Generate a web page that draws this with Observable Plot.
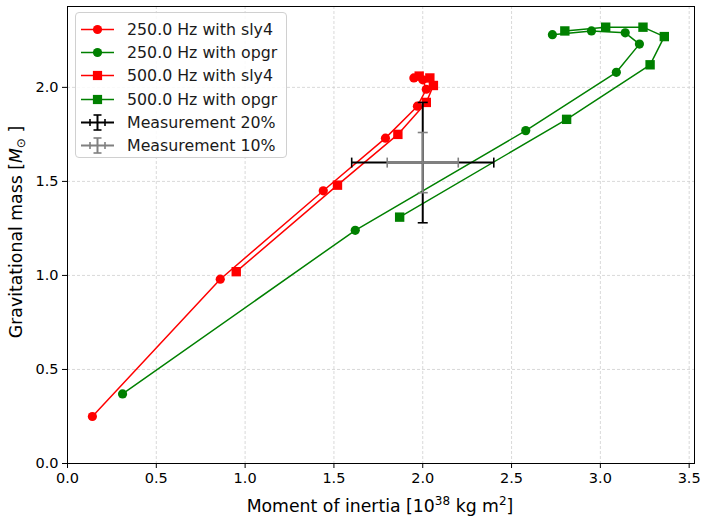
<!DOCTYPE html>
<html>
<head>
<meta charset="utf-8">
<script src="https://cdn.jsdelivr.net/npm/d3@7"></script>
<script src="https://cdn.jsdelivr.net/npm/@observablehq/plot@0.6"></script>
<style>
  html, body { margin: 0; padding: 0; background: white; }
  #wrap { position: relative; width: 701px; height: 516px; font-family: "DejaVu Sans", sans-serif; }
  #legend { position: absolute; left: 75px; top: 12px; width: 212px; height: 146px; border: 1px solid #d0d0d0;
            border-radius: 4px; background: rgba(255,255,255,0.85); box-sizing: border-box; }
  #legend .row { position: absolute; left: 0; height: 23px; width: 100%; }
  #legend svg { position: absolute; left: 4px; top: 0; }
  #legend span { position: absolute; left: 51px; top: 2px; font-size: 15.8px; color: #1a1a1a; white-space: nowrap; font-family: "DejaVu Sans", sans-serif; }
</style>
</head>
<body>
<div id="wrap"></div>
<script>
// ---- data ----
const x_250_sly4 = [0.14, 0.86, 1.44, 1.79, 1.97, 2.02, 2.00, 1.95];
const y_250_sly4 = [0.25, 0.98, 1.45, 1.73, 1.90, 1.99, 2.04, 2.05];
const x_500_sly4 = [0.95, 1.52, 1.86, 2.02, 2.06, 2.04, 1.98];
const y_500_sly4 = [1.02, 1.48, 1.75, 1.92, 2.01, 2.05, 2.06];
const x_250_opgr = [0.31, 1.62, 2.58, 3.09, 3.22, 3.14, 2.95, 2.73];
const y_250_opgr = [0.37, 1.24, 1.77, 2.08, 2.23, 2.29, 2.30, 2.28];
const x_500_opgr = [1.87, 2.81, 3.28, 3.36, 3.24, 3.03, 2.80];
const y_500_opgr = [1.31, 1.83, 2.12, 2.27, 2.32, 2.32, 2.30];

const measX = 2.0;
const measY = 1.6;
const measLevels = [0.20, 0.10];           // relative errors
const measColors = ["#000000", "#808080"];
const measLabels = ["Measurement 20%", "Measurement 10%"];

const seriesNames = ["250.0 Hz with sly4", "250.0 Hz with opgr", "500.0 Hz with sly4", "500.0 Hz with opgr"];
const seriesColors = ["#ff0000", "#008000", "#ff0000", "#008000"];
const seriesSymbols = ["circle", "circle", "square", "square"];

const xTicks = [0, 0.5, 1, 1.5, 2, 2.5, 3, 3.5];
const yTicks = [0, 0.5, 1, 1.5, 2];

// ---- build tables ----
const toRows = (xs, ys) => xs.map((x, i) => ({x, y: ys[i]}));
const series = [
  toRows(x_250_sly4, y_250_sly4),
  toRows(x_250_opgr, y_250_opgr),
  toRows(x_500_sly4, y_500_sly4),
  toRows(x_500_opgr, y_500_opgr)
];

const meas = measLevels.map((e, i) => ({
  x: measX, y: measY, ex: e * measX, ey: e * measY, color: measColors[i]
}));

// cap symbols
const capH = { draw(ctx, size) { const r = Math.sqrt(size / Math.PI); ctx.moveTo(-r, 0); ctx.lineTo(r, 0); } };
const capV = { draw(ctx, size) { const r = Math.sqrt(size / Math.PI); ctx.moveTo(0, -r); ctx.lineTo(0, r); } };

const marks = [
  Plot.gridX(xTicks.slice(1), {stroke: "#cfcfcf", strokeOpacity: 1, strokeWidth: 0.8, strokeDasharray: "3,2"}),
  Plot.gridY(yTicks.slice(1), {stroke: "#cfcfcf", strokeOpacity: 1, strokeWidth: 0.8, strokeDasharray: "3,2"}),
];

series.forEach((rows, i) => {
  marks.push(Plot.line(rows, {x: "x", y: "y", stroke: seriesColors[i], strokeWidth: 1.5}));
});
series.forEach((rows, i) => {
  marks.push(Plot.dot(rows, {x: "x", y: "y", fill: seriesColors[i], stroke: "none",
    symbol: seriesSymbols[i], r: seriesSymbols[i] === "circle" ? 4.6 : 5.3}));
});

meas.forEach(m => {
  const d = [m];
  marks.push(
    Plot.link(d, {x1: r => r.x - r.ex, x2: r => r.x + r.ex, y1: "y", y2: "y", stroke: m.color, strokeWidth: 2}),
    Plot.link(d, {x1: "x", x2: "x", y1: r => r.y - r.ey, y2: r => r.y + r.ey, stroke: m.color, strokeWidth: 2}),
    Plot.dot([{x: m.x - m.ex, y: m.y}, {x: m.x + m.ex, y: m.y}], {x: "x", y: "y", symbol: capV, r: 5, fill: "none", stroke: m.color, strokeWidth: 1.6}),
    Plot.dot([{x: m.x, y: m.y - m.ey}, {x: m.x, y: m.y + m.ey}], {x: "x", y: "y", symbol: capH, r: 5, fill: "none", stroke: m.color, strokeWidth: 1.6})
  );
});

marks.push(
  Plot.frame({stroke: "black", strokeWidth: 1}),
  Plot.axisX({ticks: xTicks, tickFormat: d3.format(".1f"), tickSize: 5, tickPadding: 4, fontSize: 14.5, label: null}),
  Plot.axisY({ticks: yTicks, tickFormat: d3.format(".1f"), tickSize: 5, tickPadding: 4, fontSize: 14.5, label: null})
);

const chart = Plot.plot({
  width: 701,
  height: 516,
  marginLeft: 67,
  marginRight: 7,
  marginTop: 6,
  marginBottom: 53,
  x: {domain: [0, 3.53]},
  y: {domain: [0, 2.43]},
  style: {fontFamily: "DejaVu Sans, sans-serif", color: "black", background: "white"},
  marks
});

const wrap = document.getElementById("wrap");
wrap.appendChild(chart);

// axis labels with sub/superscripts
const svg = d3.select(chart);
const xl = svg.append("text")
  .attr("x", 380).attr("y", 512).attr("text-anchor", "middle")
  .attr("font-size", 17.3).attr("fill", "black").attr("font-family", "DejaVu Sans, sans-serif");
xl.append("tspan").text("Moment of inertia [10");
xl.append("tspan").attr("dy", -7).attr("font-size", 12).text("38");
xl.append("tspan").attr("dy", 7).text(" kg m");
xl.append("tspan").attr("dy", -7).attr("font-size", 12).text("2");
xl.append("tspan").attr("dy", 7).text("]");

const yl = svg.append("text")
  .attr("transform", "translate(22,232) rotate(-90)").attr("text-anchor", "middle")
  .attr("font-size", 17.3).attr("fill", "black").attr("font-family", "DejaVu Sans, sans-serif");
yl.append("tspan").text("Gravitational mass [");
yl.append("tspan").attr("font-style", "italic").text("M");
yl.append("tspan").attr("dy", 3).attr("font-size", 12).text("⊙");
yl.append("tspan").attr("dy", -3).text(" ]");

// legend
const legend = document.createElement("div");
legend.id = "legend";
wrap.appendChild(legend);
const entries = seriesNames.map((n, i) => ({label: n, color: seriesColors[i], kind: seriesSymbols[i]}))
  .concat(measLabels.map((n, i) => ({label: n, color: measColors[i], kind: "err"})));
entries.forEach((e, i) => {
  const row = document.createElement("div");
  row.className = "row";
  row.style.top = (5 + i * 23.2) + "px";
  let sw = `<svg width="40" height="23"><line x1="1" x2="34" y1="11.5" y2="11.5" stroke="${e.color}" stroke-width="${e.kind === 'err' ? 2 : 1.5}"/>`;
  if (e.kind === "circle") sw += `<circle cx="17.5" cy="11.5" r="4.6" fill="${e.color}"/>`;
  else if (e.kind === "square") sw += `<rect x="12.9" y="6.9" width="9.2" height="9.2" fill="${e.color}"/>`;
  else sw += `<line x1="17.5" x2="17.5" y1="4" y2="19" stroke="${e.color}" stroke-width="2"/>
      <line x1="13.5" x2="21.5" y1="4" y2="4" stroke="${e.color}" stroke-width="1.6"/>
      <line x1="13.5" x2="21.5" y1="19" y2="19" stroke="${e.color}" stroke-width="1.6"/>
      <line x1="10" x2="10" y1="8" y2="15" stroke="${e.color}" stroke-width="1.6"/>
      <line x1="25" x2="25" y1="8" y2="15" stroke="${e.color}" stroke-width="1.6"/>`;
  sw += `</svg>`;
  row.innerHTML = sw + `<span>${e.label}</span>`;
  legend.appendChild(row);
});
</script>
</body>
</html>
